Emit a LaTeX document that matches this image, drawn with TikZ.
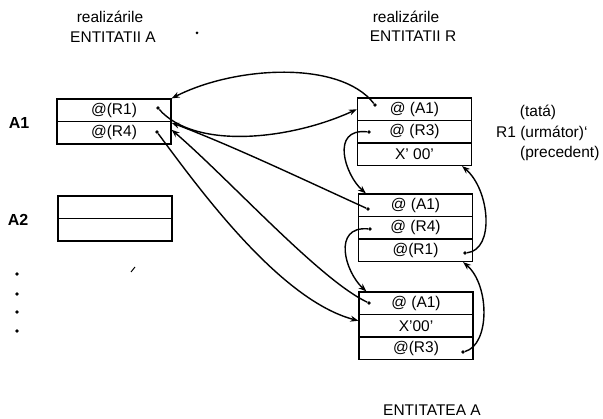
\documentclass[tikz,border=0pt]{standalone}
\usepackage{fontspec}
\setmainfont{Liberation Sans}
\usetikzlibrary{arrows.meta}
\begin{document}
\begin{tikzpicture}[x=1pt,y=-1pt,
  row/.style={draw,line width=1.2pt,minimum width=114pt,minimum height=22.5pt,inner sep=0pt,font=\fontsize{15.5}{18}\selectfont},
  lbl/.style={inner sep=0pt,font=\fontsize{15.5}{18}\selectfont},
  blbl/.style={inner sep=0pt,font=\fontsize{16}{18}\selectfont\bfseries},
  ptr/.style={circle,fill,inner sep=0pt,minimum size=3.6pt},
  link/.style={line width=1.4pt,-{Stealth[length=8pt,width=6pt]}}]
\useasboundingbox (0,0) rectangle (603,419);

% headers
\node[lbl] (hl1) at (110,17) {realizárile};
\node[lbl] (hl2) at (113,37) {ENTITATII A};
\node[lbl] (hr1) at (406,17) {realizárile};
\node[lbl] (hr2) at (413,36) {ENTITATII R};
\node[lbl] (foot) at (432,410) {ENTITATEA A};
\fill (197,33) circle (1.5pt);
\draw[line width=1pt] (131,272) -- (135,267);

% left records
\node[blbl] (lA1) at (19,123) {A1};
\node[blbl] (lA2) at (18,220) {A2};
\node[row] (A1a) at (114,110.25) {@(R1)};
\node[row] (A1b) at (114,132.75) {@(R4)};
\node[row] (A2a) at (115,207.25) {};
\node[row] (A2b) at (115,229.75) {};
\foreach \yy in {274,294,312,331} \fill (17,\yy) circle (1.8pt);

% right records
\node[row] (R1a) at (414.5,109.25) {@ (A1)};
\node[row] (R1b) at (414.5,131.75) {@ (R3)};
\node[row] (R1c) at (414.5,154.25) {X' 00'};
\node[row] (R3a) at (415.5,205.25) {@ (A1)};
\node[row] (R3b) at (415.5,227.75) {@ (R4)};
\node[row] (R3c) at (415.5,250.25) {@(R1)};
\node[row] (R4a) at (416,303.25) {@ (A1)};
\node[row] (R4b) at (416,325.75) {X'00'};
\node[row] (R4c) at (416,348.25) {@(R3)};

\node[lbl] (t1) at (538,112) {(tatá)};
\node[lbl,anchor=west] (t2) at (496,133) {R1 (urmátor)`};
\node[lbl,anchor=west] (t3) at (520,153) {(precedent)};

% pointer dots
\node[ptr] (dA1a) at (158,108) {};
\node[ptr] (dA1b) at (157,132) {};
\node[ptr] (dR1a) at (375,105) {};
\node[ptr] (dR1b) at (369,132) {};
\node[ptr] (dR3a) at (368,209) {};
\node[ptr] (dR3b) at (370,229) {};
\node[ptr] (dR3c) at (465,253) {};
\node[ptr] (dR4a) at (369,303) {};
\node[ptr] (dR4c) at (463,352) {};

% connectors
\draw[link] (dR1a) .. controls (340,60) and (235,66) .. (A1a.north east);
\draw[link] (dA1a) .. controls (195,150) and (290,140) .. (R1a.west);
\draw[link] (dR3a) .. controls (300,178) and (235,147) .. ([yshift=10pt]A1b.east);
\draw[link] (dR4a) .. controls (320,280) and (230,180) .. ([yshift=3pt]A1b.east);
\draw[link] (dA1b) .. controls (200,190) and (280,300) .. ([yshift=5pt]R4b.west);
\draw[link] (dR1b) .. controls (330,128) and (345,175) .. ([xshift=8pt]R3a.north west);
\draw[link] (dR3b) .. controls (332,226) and (345,272) .. ([xshift=8pt]R4a.north west);
\draw[link] (dR3c) .. controls (495,250) and (490,190) .. ([xshift=-10pt]R1c.south east);
\draw[link] (dR4c) .. controls (490,345) and (490,285) .. ([xshift=-10pt]R3c.south east);
\end{tikzpicture}
\end{document}
